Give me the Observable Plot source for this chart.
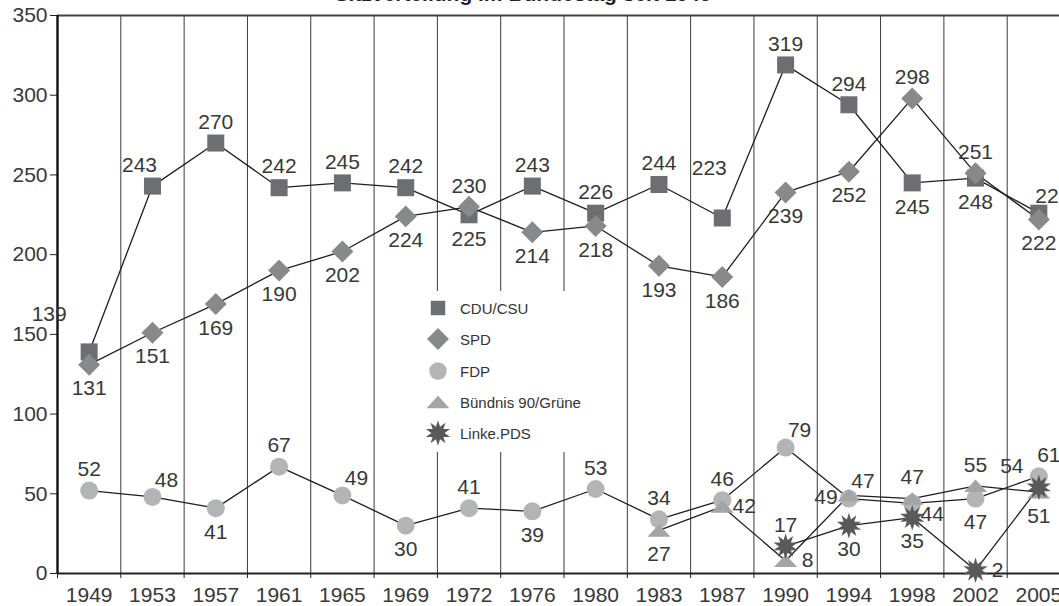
<!DOCTYPE html>
<html>
<head>
<meta charset="utf-8">
<script src="https://cdn.jsdelivr.net/npm/d3@7"></script>
<script src="https://cdn.jsdelivr.net/npm/@observablehq/plot@0.6"></script>
<style>
  html, body { margin: 0; padding: 0; background: #fff; overflow: hidden; }
  #wrap { position: relative; width: 1059px; height: 606px; overflow: hidden; font-family: "Liberation Sans", Arial, Helvetica, sans-serif; }
  #title { position: absolute; top: -17px; left: 0; width: 1046px; text-align: center; font-weight: bold; font-size: 21px; line-height: 1; color: #222; z-index: 3; }
  #chart { position: absolute; top: 0; left: 0; width: 1075px; }
  #chart svg { max-width: none !important; }
  #legend { position: absolute; left: 421px; top: 291px; width: 185px; height: 161px; background: #fff; z-index: 2; }
  .lrow { position: absolute; left: 0; height: 26px; display: flex; align-items: center; }
  .lrow span { font-size: 15px; color: #333; margin-left: 8px; }
</style>
</head>
<body>
<div id="wrap">
  <div id="title">Sitzverteilung im Bundestag seit 1949</div>
  <div id="chart"></div>
  <div id="legend"></div>
</div>
<script>
// ---- data ----
const years = ["1949","1953","1957","1961","1965","1969","1972","1976","1980","1983","1987","1990","1994","1998","2002","2005"];
const parties = ["CDU/CSU","SPD","FDP","Bündnis 90/Grüne","Linke.PDS"];
const cdu    = [139,243,270,242,245,242,225,243,226,244,223,319,294,245,248,226];
const spd    = [131,151,169,190,202,224,230,214,218,193,186,239,252,298,251,222];
const fdp    = [52,48,41,67,49,30,41,39,53,34,46,79,47,44,47,61];
const gruene = [null,null,null,null,null,null,null,null,null,27,42,8,49,47,55,51];
const linke  = [null,null,null,null,null,null,null,null,null,null,null,17,30,35,2,54];
const yTicks = [0,50,100,150,200,250,300,350];

// label placement codes (which side of the marker the number sits)
const cduPos    = ["TL","tl","t","t","t","t","b","t","t","t","T","t","t","b","b","tr"];
const spdPos    = ["b","b","b","b","b","b","t","b","b","b","b","b","b","t","t","b"];
const fdpPos    = ["t","tr","b","t","tr","b","t","b","t","t","t","tr","tr","br","b","tR"];
const gruenePos = [null,null,null,null,null,null,null,null,null,"b","r","r","l","t","t","b"];
const linkePos  = [null,null,null,null,null,null,null,null,null,null,null,"t","b","b","r","tL"];

// ---- styles ----
const offsets = {
  t: [0, -21], b: [0, 24], tr: [14, -17], tl: [-13, -21],
  r: [22, 0], l: [-23, 2], br: [20, 11], T: [-13, -50], TL: [-40, -38],
  tL: [-27, -21], tR: [10, -21]
};

function sym(drawFn) { return { draw(ctx, size) { drawFn(ctx, Math.sqrt(size / Math.PI)); } }; }
const symSquare = sym((c, r) => { const h = r * 0.886; c.rect(-h, -h, 2 * h, 2 * h); });
const symDiamond = sym((c, r) => { const h = r * 1.11; c.moveTo(0, -h); c.lineTo(h, 0); c.lineTo(0, h); c.lineTo(-h, 0); c.closePath(); });
const symCircle = sym((c, r) => { c.moveTo(r, 0); c.arc(0, 0, r, 0, 2 * Math.PI); c.closePath(); });
const symTriangle = sym((c, r) => { const w = r * 1.15, h = r * 0.62; c.moveTo(0, -h); c.lineTo(w, h); c.lineTo(-w, h); c.closePath(); });
const symStar = sym((c, r) => {
  const n = 10, ro = r * 1.28, ri = r * 0.66;
  for (let k = 0; k < 2 * n; k++) {
    const a = -Math.PI / 2 + k * Math.PI / n;
    const rr = k % 2 === 0 ? ro : ri;
    const x = rr * Math.cos(a), y = rr * Math.sin(a);
    if (k === 0) c.moveTo(x, y); else c.lineTo(x, y);
  }
  c.closePath();
});

const partyStyle = {
  "CDU/CSU":          { symbol: symSquare,   fill: "#6d6e71", r: 9.6 },
  "SPD":              { symbol: symDiamond,  fill: "#88898b", r: 9.9 },
  "FDP":              { symbol: symCircle,   fill: "#b3b4b6", r: 9.0 },
  "Bündnis 90/Grüne": { symbol: symTriangle, fill: "#a3a4a6", r: 10 },
  "Linke.PDS":        { symbol: symStar,     fill: "#58595b", r: 10 }
};

// ---- table ----
const seriesValues = [cdu, spd, fdp, gruene, linke];
const seriesPos = [cduPos, spdPos, fdpPos, gruenePos, linkePos];
const rows = [];
parties.forEach((p, k) => {
  seriesValues[k].forEach((v, i) => {
    if (v !== null) rows.push({ party: p, i, xpos: i + 0.5, value: v, pos: seriesPos[k][i] });
  });
});

const font = "Liberation Sans, Arial, Helvetica, sans-serif";
const marks = [
  Plot.ruleX(d3.range(1, 17), { stroke: "#3a3a3a", strokeWidth: 1 }),
  Plot.axisY({ ticks: yTicks, tickSize: 7, tickPadding: 3, label: null, fontSize: 21, stroke: "#222" }),
  Plot.axisX({ ticks: d3.range(0, 17), tickSize: 5, tickFormat: () => "", label: null, stroke: "#222" }),
  Plot.axisX({ ticks: d3.range(16).map(i => i + 0.5), tickSize: 0, tickPadding: 14, tickFormat: d => years[Math.floor(d)], label: null, fontSize: 21 }),
  Plot.ruleY([350], { stroke: "#444", strokeWidth: 2 }),
  Plot.ruleY([0], { stroke: "#222", strokeWidth: 2 }),
  Plot.ruleX([0], { stroke: "#111", strokeWidth: 2.4 }),
  Plot.line(rows, { x: "xpos", y: "value", z: "party", stroke: "#1e1e1e", strokeWidth: 1.3 })
];
parties.forEach(p => {
  const st = partyStyle[p];
  marks.push(Plot.dot(rows.filter(d => d.party === p), { x: "xpos", y: "value", symbol: st.symbol, r: st.r, fill: st.fill, stroke: "none" }));
});
Object.entries(offsets).forEach(([code, [dx, dy]]) => {
  marks.push(Plot.text(rows.filter(d => d.pos === code), {
    x: "xpos", y: "value", text: d => String(d.value), dx, dy,
    fontSize: 21, fill: "#383838", textAnchor: "middle", lineAnchor: "middle"
  }));
});

const chart = Plot.plot({
  width: 1075,
  height: 606,
  marginLeft: 57,
  marginRight: 5,
  marginTop: 15,
  marginBottom: 33,
  style: { fontFamily: font, fontSize: "21px", color: "#383838", background: "#fff", maxWidth: "none" },
  x: { type: "linear", domain: [0, 16] },
  y: { domain: [0, 350] },
  marks
});
chart.style.maxWidth = "none";
chart.setAttribute("width", 1075);
document.getElementById("chart").appendChild(chart);

// ---- legend (inside the plot area, white box) ----
const legend = d3.select("#legend");
const rowTops = [4, 35, 67, 98, 129];
parties.forEach((p, k) => {
  const st = partyStyle[p];
  const row = legend.append("div").attr("class", "lrow").style("top", rowTops[k] + "px").style("left", "3px");
  const svg = row.append("svg").attr("width", 28).attr("height", 26);
  const size = st.r * st.r * Math.PI * (p === "CDU/CSU" ? 0.72 : p === "FDP" ? 0.95 : 1.0);
  const path = d3.path();
  st.symbol.draw(path, size);
  svg.append("path").attr("d", path.toString()).attr("transform", "translate(14,13)").attr("fill", st.fill);
  row.append("span").text(p);
});
</script>
</body>
</html>
